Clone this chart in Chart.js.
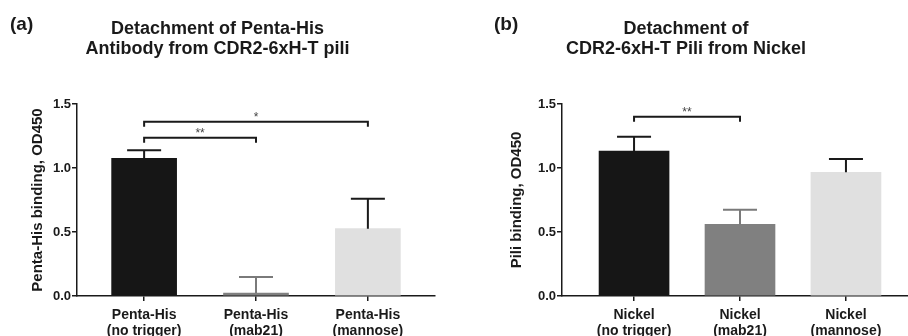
<!DOCTYPE html>
<html>
<head>
<meta charset="utf-8">
<script src="https://cdn.jsdelivr.net/npm/chart.js@4.4.1/dist/chart.umd.min.js"></script>
<style>
  html, body { margin: 0; padding: 0; background: #fff; overflow: hidden; }
  #wrap { position: relative; width: 908px; height: 336px; overflow: hidden; }
  .panel { position: absolute; top: 0; height: 352px; }
  .tag { position: absolute; font: bold 19px "Liberation Sans", Arial, sans-serif; color: #1a1a1a; }
</style>
</head>
<body>
<div id="wrap">
  <div class="panel" style="left:0;width:512px"><canvas id="chart-a"></canvas></div>
  <div class="panel" style="left:454px;width:572px"><canvas id="chart-b"></canvas></div>
  <div class="tag" style="left:10px;top:13px">(a)</div>
  <div class="tag" style="left:494px;top:13px">(b)</div>
</div>
<script>
// panel (a)
const catsA = [["Penta-His", "(no trigger)"], ["Penta-His", "(mab21)"], ["Penta-His", "(mannose)"]];
const meansA = [1.076, 0.023, 0.526];
const errA = [0.062, 0.125, 0.234];
const sigA = [
    { from: 0, to: 1, y: 1.237, label: "**" },
    { from: 0, to: 2, y: 1.362, label: "*" },
];

// panel (b)
const catsB = [["Nickel", "(no trigger)"], ["Nickel", "(mab21)"], ["Nickel", "(mannose)"]];
const meansB = [1.133, 0.56, 0.966];
const errB = [0.112, 0.114, 0.104];
const sigB = [{ from: 0, to: 1, y: 1.40, label: "**" }];

const yTicks = [0, 0.5, 1.0, 1.5];

const FONT = "'Liberation Sans', Arial, sans-serif";
const barColors = ["#161616", "#808080", "#e0e0e0"];
const errColors = ["#1a1a1a", "#7a7a7a", "#1a1a1a"];

const errorBars = {
    id: "errorBars",
    afterDatasetsDraw(chart, args, opts) {
        const { ctx, scales: { x, y } } = chart;
        ctx.save();
        ctx.lineWidth = 2;
        opts.means.forEach((m, i) => {
            const px = x.getPixelForValue(i + 1);
            const y0 = y.getPixelForValue(m);
            const y1 = y.getPixelForValue(m + opts.errs[i]);
            ctx.strokeStyle = errColors[i];
            ctx.beginPath();
            ctx.moveTo(px, y0);
            ctx.lineTo(px, y1);
            ctx.moveTo(px - 17, y1);
            ctx.lineTo(px + 17, y1);
            ctx.stroke();
        });
        ctx.restore();
    },
};

const brackets = {
    id: "brackets",
    afterDatasetsDraw(chart, args, opts) {
        const { ctx, scales: { x, y } } = chart;
        ctx.save();
        ctx.strokeStyle = "#1a1a1a";
        ctx.lineWidth = 2;
        ctx.fillStyle = "#444";
        ctx.font = "12px " + FONT;
        ctx.textAlign = "center";
        ctx.textBaseline = "alphabetic";
        opts.items.forEach((b) => {
            const x1 = x.getPixelForValue(b.from + 1);
            const x2 = x.getPixelForValue(b.to + 1);
            const py = y.getPixelForValue(b.y);
            ctx.beginPath();
            ctx.moveTo(x1, py + 5);
            ctx.lineTo(x1, py);
            ctx.lineTo(x2, py);
            ctx.lineTo(x2, py + 5);
            ctx.stroke();
            ctx.fillText(b.label, (x1 + x2) / 2, py - 1);
        });
        ctx.restore();
    },
};

function makeChart(id, { title, yTitle, cats, means, errs, sig, xMin, xMax, barWidth, yWidth, padRight, titleOffset }) {
    const ctx = document.getElementById(id).getContext("2d");
    return new Chart(ctx, {
        type: "bar",
        data: {
            datasets: [{
                data: means.map((v, i) => ({ x: i + 1, y: v })),
                backgroundColor: barColors,
                borderWidth: 0,
                barThickness: barWidth,
            }],
        },
        options: {
            responsive: true,
            maintainAspectRatio: false,
            animation: false,
            layout: { padding: { left: 0, right: padRight, top: 0, bottom: 0 } },
            plugins: {
                legend: { display: false },
                tooltip: { enabled: false },
                title: {
                    display: true,
                    text: title,
                    color: "#1a1a1a",
                    font: { family: FONT, size: 18, weight: "bold", lineHeight: 1.1 },
                    padding: { top: 19, bottom: 45.4 },
                },
                errorBars: { means, errs },
                brackets: { items: sig },
            },
            scales: {
                x: {
                    type: "linear",
                    offset: false,
                    min: xMin,
                    max: xMax,
                    afterBuildTicks(scale) {
                        scale.ticks = cats.map((c, i) => ({ value: i + 1 }));
                    },
                    afterFit(scale) { scale.height = 56; },
                    ticks: {
                        autoSkip: false,
                        maxRotation: 0,
                        padding: 6,
                        color: "#1a1a1a",
                        font: { family: FONT, size: 14, weight: "bold", lineHeight: 1.15 },
                        callback: (v) => cats[v - 1],
                    },
                    grid: { offset: false, drawOnChartArea: false, drawTicks: true, tickLength: 5, color: "#1a1a1a", lineWidth: 1.5 },
                    border: { display: true, color: "#1a1a1a", width: 1.5 },
                },
                y: {
                    min: 0,
                    max: 1.5,
                    afterBuildTicks(scale) {
                        scale.ticks = yTicks.map((v) => ({ value: v }));
                    },
                    afterFit(scale) { scale.width = yWidth; },
                    ticks: {
                        padding: 1,
                        color: "#1a1a1a",
                        font: { family: FONT, size: 13, weight: "bold" },
                        callback: (v) => v.toFixed(1),
                    },
                    grid: { drawOnChartArea: false, drawTicks: true, tickLength: 5, color: "#1a1a1a", lineWidth: 1.5 },
                    border: { display: true, color: "#1a1a1a", width: 1.5 },
                    title: {
                        display: true,
                        text: yTitle,
                        color: "#1a1a1a",
                        font: { family: FONT, size: 15, weight: "bold" },
                        padding: { top: titleOffset, bottom: 0 },
                    },
                },
            },
        },
        plugins: [errorBars, brackets],
    });
}

makeChart("chart-a", {
    title: ["Detachment of Penta-His", "Antibody from CDR2-6xH-T pili"],
    yTitle: "Penta-His binding, OD450",
    cats: catsA, means: meansA, errs: errA, sig: sigA,
    xMin: 0.4, xMax: 3.6, barWidth: 65, yWidth: 77, padRight: 77, titleOffset: 28.5,
});

makeChart("chart-b", {
    title: ["Detachment of", "CDR2-6xH-T Pili from Nickel"],
    yTitle: "Pili binding, OD450",
    cats: catsB, means: meansB, errs: errB, sig: sigB,
    xMin: 0.32, xMax: 3.68, barWidth: 70, yWidth: 108, padRight: 108, titleOffset: 54,
});
</script>
</body>
</html>
